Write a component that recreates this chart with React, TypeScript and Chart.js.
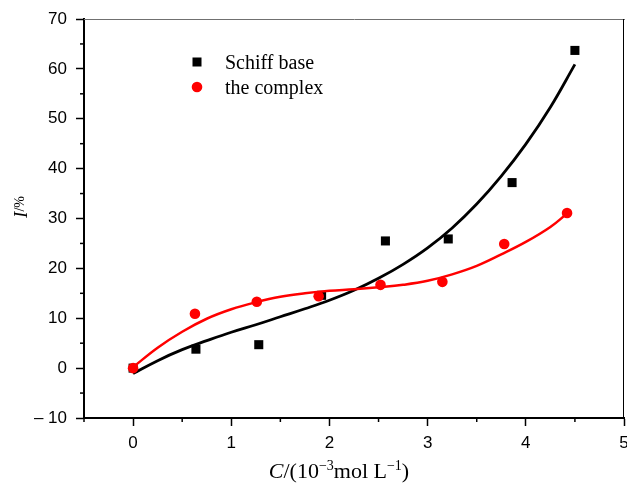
import React, { useEffect, useRef } from "react";
import { Chart, registerables } from "chart.js";

Chart.register(...registerables);

// Measured points
const schiffX = [0, 0.64, 1.28, 1.92, 2.57, 3.21, 3.86, 4.5];
const schiffY = [0, 3.8, 4.7, 14.6, 25.5, 25.9, 37.2, 63.7];
const complexX = [0, 0.63, 1.26, 1.89, 2.52, 3.15, 3.78, 4.42];
const complexY = [0, 10.9, 13.3, 14.4, 16.7, 17.3, 24.9, 31.1];

// Fitted curves
const schiffFitX = [0, 0.25, 0.5, 0.75, 1.0, 1.25, 1.5, 1.75, 2.0, 2.25, 2.5, 2.75, 3.0, 3.25, 3.5, 3.75, 4.0, 4.25, 4.5];
const schiffFitY = [-1.1, 1.5, 3.7, 5.5, 7.2, 8.7, 10.3, 11.9, 13.6, 15.6, 18.0, 20.8, 24.1, 28.1, 32.9, 38.5, 44.9, 52.3, 60.9];
const complexFitX = [0, 0.25, 0.5, 0.75, 1.0, 1.25, 1.5, 1.75, 2.0, 2.25, 2.5, 2.75, 3.0, 3.25, 3.5, 3.75, 4.0, 4.25, 4.42];
const complexFitY = [0.2, 4.1, 7.3, 9.9, 11.8, 13.2, 14.3, 15.0, 15.5, 15.8, 16.2, 16.7, 17.5, 18.8, 20.5, 22.8, 25.3, 28.3, 31.0];

// Axes
const xMin = -0.5;
const xMax = 5;
const yMin = -10;
const yMax = 70;
const xTicks = [0, 1, 2, 3, 4, 5];
const yTicks = [-10, 0, 10, 20, 30, 40, 50, 60, 70];
const xMinorTicks = [-0.5, 0.5, 1.5, 2.5, 3.5, 4.5];
const yMinorTicks = [-5, 5, 15, 25, 35, 45, 55, 65];

const legendLabels = ["Schiff base", "the complex"];

const SERIF = "'Liberation Serif', 'Times New Roman', serif";
const SANS = "'Liberation Sans', Arial, sans-serif";

function zip(xs: number[], ys: number[]) {
  return xs.map((x, i) => ({ x, y: ys[i] }));
}

const decorPlugin = {
  id: "decor",
  afterDraw(chart: any) {
    const { ctx, chartArea: a, scales } = chart;
    ctx.save();
    // top border (grey) and right border
    ctx.lineWidth = 1;
    ctx.strokeStyle = "#707070";
    ctx.beginPath();
    ctx.moveTo(a.left, a.top + 0.5);
    ctx.lineTo(a.right + 1, a.top + 0.5);
    ctx.stroke();
    ctx.strokeStyle = "#000";
    ctx.beginPath();
    ctx.moveTo(a.right - 0.5, a.top);
    ctx.lineTo(a.right - 0.5, a.bottom);
    ctx.stroke();

    // minor ticks
    ctx.lineWidth = 1.5;
    ctx.strokeStyle = "#000";
    yMinorTicks.forEach((v) => {
      const p = scales.y.getPixelForValue(v);
      ctx.beginPath();
      ctx.moveTo(a.left - 4, p);
      ctx.lineTo(a.left, p);
      ctx.stroke();
    });
    xMinorTicks.forEach((v) => {
      const p = scales.x.getPixelForValue(v);
      ctx.beginPath();
      ctx.moveTo(p, a.bottom);
      ctx.lineTo(p, a.bottom + 4);
      ctx.stroke();
    });

    // legend
    const lx = a.left + 113;
    const ly = a.top + 43;
    const gap = 25;
    ctx.fillStyle = "#000";
    ctx.fillRect(lx - 4.5, ly - 4.5, 9, 9);
    ctx.fillStyle = "#ff0000";
    ctx.beginPath();
    ctx.arc(lx, ly + gap, 5.3, 0, Math.PI * 2);
    ctx.fill();
    ctx.fillStyle = "#000";
    ctx.font = `20px ${SERIF}`;
    ctx.textAlign = "left";
    ctx.textBaseline = "alphabetic";
    ctx.fillText(legendLabels[0], lx + 28, ly + 7);
    ctx.fillText(legendLabels[1], lx + 28, ly + gap + 7);

    // x-axis title: C/(10^-3 mol L^-1)
    const parts: [string, string, number][] = [
      ["C", `italic 22px ${SERIF}`, 0],
      ["/(10", `22px ${SERIF}`, 0],
      ["\u22123", `14px ${SERIF}`, -8],
      ["mol L", `22px ${SERIF}`, 0],
      ["\u22121", `14px ${SERIF}`, -8],
      [")", `22px ${SERIF}`, 0],
    ];
    let total = 0;
    parts.forEach(([t, f]) => {
      ctx.font = f;
      total += ctx.measureText(t).width;
    });
    let cx = 339 - total / 2;
    const by = 478;
    parts.forEach(([t, f, dy]) => {
      ctx.font = f;
      ctx.fillText(t, cx, by + dy);
      cx += ctx.measureText(t).width;
    });

    // y-axis title: I/%
    ctx.save();
    ctx.translate(27, 207);
    ctx.rotate(-Math.PI / 2);
    ctx.font = `italic 19px ${SERIF}`;
    const wI = ctx.measureText("I").width;
    ctx.font = `14px ${SERIF}`;
    const wP = ctx.measureText("/%").width;
    let sx = -(wI + wP) / 2;
    ctx.font = `italic 19px ${SERIF}`;
    ctx.fillText("I", sx, 0);
    sx += wI;
    ctx.font = `14px ${SERIF}`;
    ctx.fillText("/%", sx, -3);
    ctx.restore();

    ctx.restore();
  },
};

export default function App() {
  const ref = useRef<HTMLCanvasElement | null>(null);

  useEffect(() => {
    if (!ref.current) return;
    const chart = new Chart(ref.current, {
      type: "scatter",
      data: {
        datasets: [
          {
            label: "the complex",
            data: zip(complexX, complexY),
            pointStyle: "circle",
            pointRadius: 5.3,
            backgroundColor: "#ff0000",
            borderWidth: 0,
            order: 0,
          },
          {
            label: "the complex fit",
            data: zip(complexFitX, complexFitY),
            showLine: true,
            pointRadius: 0,
            borderColor: "#ff0000",
            borderWidth: 2.5,
            tension: 0.4,
            order: 1,
          },
          {
            label: "Schiff base",
            data: zip(schiffX, schiffY),
            pointStyle: "rect",
            pointRadius: 6.4,
            backgroundColor: "#000",
            borderWidth: 0,
            order: 2,
          },
          {
            label: "Schiff base fit",
            data: zip(schiffFitX, schiffFitY),
            showLine: true,
            pointRadius: 0,
            borderColor: "#000",
            borderWidth: 2.8,
            tension: 0.4,
            order: 3,
          },
        ] as any,
      },
      options: {
        animation: false,
        responsive: true,
        maintainAspectRatio: false,
        events: [],
        layout: { autoPadding: false, padding: { left: 0, top: 19, right: 3, bottom: 0 } },
        plugins: {
          legend: { display: false },
          tooltip: { enabled: false },
          title: { display: false },
        },
        scales: {
          x: {
            type: "linear",
            min: xMin,
            max: xMax,
            afterBuildTicks: (s: any) => {
              s.ticks = xTicks.map((v) => ({ value: v }));
            },
            afterFit: (s: any) => {
              s.height = 66;
              s.paddingLeft = 0;
              s.paddingRight = 0;
            },
            border: { display: true, color: "#000", width: 2 },
            grid: {
              drawOnChartArea: false,
              drawTicks: true,
              tickLength: 8,
              tickColor: "#000",
              tickWidth: 1.5,
            },
            ticks: {
              color: "#000",
              font: { family: SANS, size: 17 },
              padding: 7,
              maxRotation: 0,
              callback: (v: any) => String(v),
            },
          },
          y: {
            type: "linear",
            min: yMin,
            max: yMax,
            afterBuildTicks: (s: any) => {
              s.ticks = yTicks.map((v) => ({ value: v }));
            },
            afterFit: (s: any) => {
              s.width = 84;
              s.paddingTop = 0;
              s.paddingBottom = 0;
            },
            border: { display: true, color: "#000", width: 2 },
            grid: {
              drawOnChartArea: false,
              drawTicks: true,
              tickLength: 8,
              tickColor: "#000",
              tickWidth: 1.5,
            },
            ticks: {
              color: "#000",
              font: { family: SANS, size: 17 },
              padding: 9,
              callback: (v: any) => (Number(v) < 0 ? "\u2013 " + Math.abs(Number(v)) : String(v)),
            },
          },
        },
      } as any,
      plugins: [decorPlugin],
    });
    return () => chart.destroy();
  }, []);

  return (
    <div style={{ position: "absolute", left: 0, top: 0, width: 627, height: 484, background: "#fff" }}>
      <canvas ref={ref} width={627} height={484} />
    </div>
  );
}
